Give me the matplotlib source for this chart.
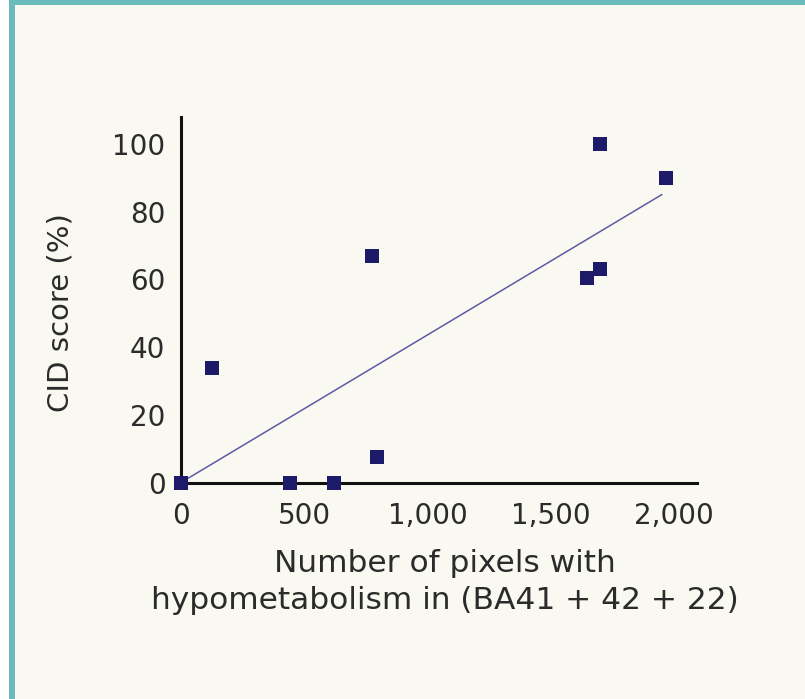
import matplotlib
matplotlib.use("Agg")
import matplotlib.pyplot as plt
from matplotlib.patches import Rectangle

# Data
pixels = [0, 128, 445, 623, 777, 797, 1649, 1700, 1700, 1968]
cid_score = [0, 33.8, 0, 0, 67, 7.5, 60.3, 63, 100, 90]
fit_x = [0, 1950]
fit_y = [0, 85]
xticks = [0, 500, 1000, 1500, 2000]
xtick_labels = ["0", "500", "1,000", "1,500", "2,000"]
yticks = [0, 20, 40, 60, 80, 100]
ytick_labels = ["0", "20", "40", "60", "80", "100"]

W, H = 805, 699
fig = plt.figure(figsize=(W / 100, H / 100), dpi=100, facecolor="white")
plt.rcParams["font.family"] = ["DejaVu Sans"]

# background panel and teal frame
bg = fig.add_axes([0, 0, 1, 1], zorder=-10)
bg.set_xlim(0, W)
bg.set_ylim(H, 0)
bg.axis("off")
bg.add_patch(Rectangle((9, 0), W - 9, H, facecolor="#6bbbbd", edgecolor="none"))
bg.add_patch(Rectangle((15, 5), W - 15, H - 5, facecolor="#faf9f1", edgecolor="none"))

left, right = 180.7, 697
bottom, top = 482.7, 116.7
ax = fig.add_axes([left / W, 1 - bottom / H, (right - left) / W, (bottom - top) / H])
ax.set_facecolor("none")
ax.set_xlim(0, 2093)
ax.set_ylim(0, 108)

ax.plot(fit_x, fit_y, color="#5e5aa4", lw=1.1, zorder=2)
ax.scatter(pixels, cid_score, marker="s", s=95, color="#1e1a6a", zorder=3, clip_on=False, linewidths=0)

for s in ["top", "right"]:
    ax.spines[s].set_visible(False)
for s in ["left", "bottom"]:
    ax.spines[s].set_linewidth(2.2)
    ax.spines[s].set_color("#111111")

txt = "#2b2b2b"
ax.set_xticks(xticks)
ax.set_xticklabels(xtick_labels)
ax.set_yticks(yticks)
ax.set_yticklabels(ytick_labels)
ax.tick_params(axis="both", length=0, labelsize=20, colors=txt)
ax.tick_params(axis="y", pad=11)
ax.tick_params(axis="x", pad=14)

ax.set_xlabel("Number of pixels with\nhypometabolism in (BA41 + 42 + 22)", fontsize=22.5,
              color=txt, linespacing=1.32, multialignment="center")
ax.xaxis.set_label_coords(0.512, -0.182)
ax.set_ylabel("CID score (%)", fontsize=21, color=txt)
ax.yaxis.set_label_coords(-0.205, 0.466)

fig.savefig("out.png", dpi=100, facecolor=fig.get_facecolor())
